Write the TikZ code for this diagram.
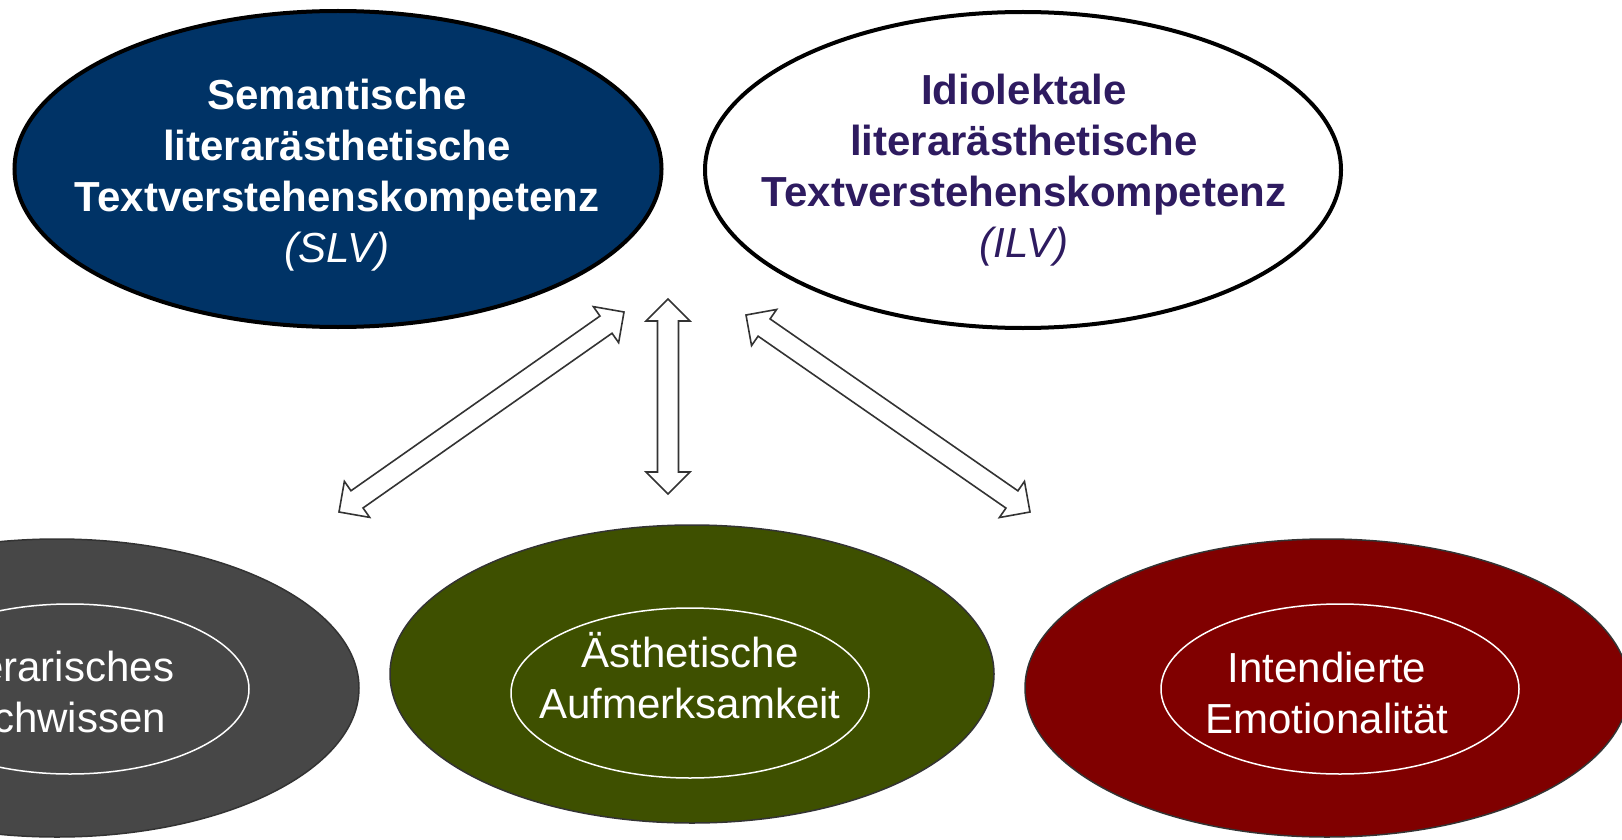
\documentclass[tikz,border=0pt]{standalone}
\usepackage{fontspec}
\setmainfont{Liberation Sans}
\usepackage{tikz}
\usetikzlibrary{positioning, calc, shapes.geometric}

\definecolor{slvblue}{RGB}{0,51,102}
\definecolor{ilvpurple}{RGB}{46,27,96}
\definecolor{wissengray}{RGB}{71,71,71}
\definecolor{aufmgreen}{RGB}{62,80,0}
\definecolor{emored}{RGB}{128,0,0}
\definecolor{rimgray}{RGB}{51,51,51}

\tikzset{
    bigell/.style={ellipse, draw=black, line width=4pt, minimum width=647pt, minimum height=316pt, inner sep=0pt},
    outerell/.style={ellipse, draw=rimgray, line width=1.5pt, minimum width=604pt, minimum height=298pt, inner sep=0pt},
    innerell/.style={ellipse, draw=white, line width=1.5pt, minimum width=358pt, minimum height=170pt, inner sep=0pt},
    toptext/.style={align=center, inner sep=0pt, font=\fontsize{42}{51}\selectfont},
    bottext/.style={align=center, inner sep=0pt, text=white, font=\fontsize{42}{51}\selectfont},
    hollow/.style={draw=rimgray, fill=white, line width=1.6pt, line join=miter}
}

% hollow double arrow from #1 to #2
\newcommand{\dblarrow}[2]{%
    \draw[hollow] (#1)
        -- ($(#1)!22pt!(#2)!22pt!90:(#2)$) -- ($(#1)!22pt!(#2)!10.5pt!90:(#2)$)
        -- ($(#2)!22pt!(#1)!10.5pt!-90:(#1)$) -- ($(#2)!22pt!(#1)!22pt!-90:(#1)$)
        -- (#2)
        -- ($(#2)!22pt!(#1)!22pt!90:(#1)$) -- ($(#2)!22pt!(#1)!10.5pt!90:(#1)$)
        -- ($(#1)!22pt!(#2)!10.5pt!-90:(#2)$) -- ($(#1)!22pt!(#2)!22pt!-90:(#2)$)
        -- cycle;
}

\begin{document}
\begin{tikzpicture}[x=1pt, y=-1pt]
    \clip (0,0) rectangle (1622,840);

    % Top competences
    \node[bigell, fill=slvblue] (slv) at (338,169) {};
    \node[toptext, text=white] (slvtext) at (337,175)
        {\textbf{Semantische}\\ \textbf{literarästhetische}\\ \textbf{Textverstehenskompetenz}\\ \textit{(SLV)}};
    \node[bigell, fill=white, minimum width=636pt] (ilv) at (1023,170) {};
    \node[toptext, text=ilvpurple] (ilvtext) at (1024,170)
        {\textbf{Idiolektale}\\ \textbf{literarästhetische}\\ \textbf{Textverstehenskompetenz}\\ \textit{(ILV)}};

    % Bottom components
    \node[outerell, fill=wissengray] (fach) at (57,688) {};
    \node[innerell] (fachin) at (70,689) {};
    \node[bottext] (fachtext) at (55,692) {Literarisches\\Fachwissen};

    \node[outerell, fill=aufmgreen] (aufm) at (692,674) {};
    \node[innerell] (aufmin) at (690,693) {};
    \node[bottext] (aufmtext) at (690,676) {Ästhetische\\Aufmerksamkeit};

    \node[outerell, fill=emored] (emo) at (1327,688) {};
    \node[innerell] (emoin) at (1340,689) {};
    \node[bottext] (emotext) at (1327,693) {Intendierte\\Emotionalität};

    % Arrows
    \coordinate (slvtip) at (624,312);
    \coordinate (fachtip) at (339,512);
    \coordinate (midtop) at (668,299);
    \coordinate (midbot) at (668,494);
    \coordinate (ilvtip) at (746,315);
    \coordinate (emotip) at (1030,512);

    \dblarrow{slvtip}{fachtip}
    \dblarrow{midtop}{midbot}
    \dblarrow{ilvtip}{emotip}
\end{tikzpicture}
\end{document}
